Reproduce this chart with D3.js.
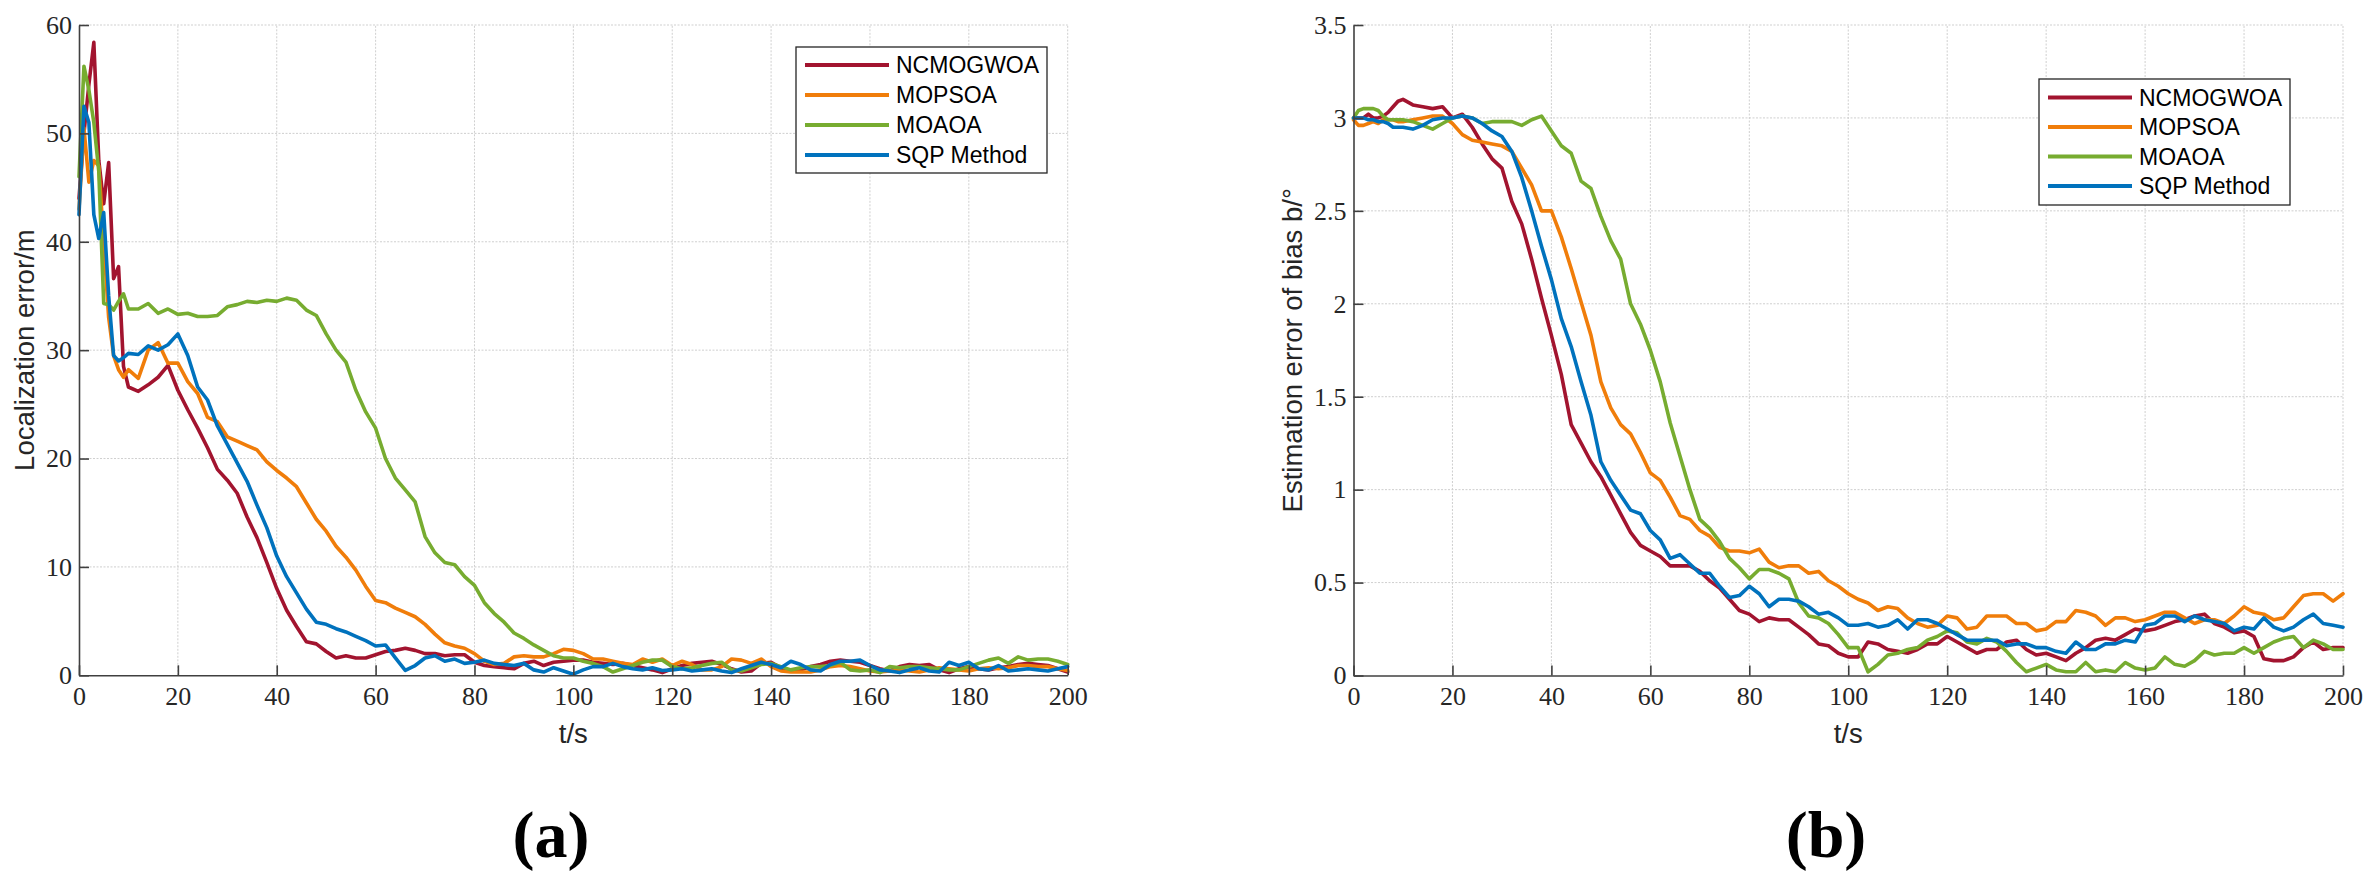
<!DOCTYPE html>
<html><head><meta charset="utf-8">
<script src="https://cdn.jsdelivr.net/npm/d3@7"></script>
<style>
html,body{margin:0;padding:0;background:#fff;}
svg{display:block;}
</style></head><body>
<svg id="chart" width="2375" height="887"></svg>
<script>
// ---------- data ----------
const timeSec = [0,1,2,3,4,5,6,7,8,9,10,
  12,14,16,18,20,22,24,26,28,30,
  32,34,36,38,40,42,44,46,48,50,
  52,54,56,58,60,62,64,66,68,70,
  72,74,76,78,80,82,84,86,88,90,
  92,94,96,98,100,102,104,106,108,110,
  112,114,116,118,120,122,124,126,128,130,
  132,134,136,138,140,142,144,146,148,150,
  152,154,156,158,160,162,164,166,168,170,
  172,174,176,178,180,182,184,186,188,190,
  192,194,196,198,200];

// (a) Localization error / m
const errNCMOGWOA = [44,50,54.5,58.4,47.5,43.5,47.3,36.6,37.7,28.5,26.6,
  26.2,26.8,27.5,28.6,26.3,24.5,22.8,21.0,19.0,18.0,
  16.8,14.6,12.7,10.4,8.0,6.0,4.5,3.1,2.9,2.2,
  1.6,1.8,1.6,1.6,1.9,2.2,2.3,2.5,2.3,2.0,
  2.0,1.8,1.9,1.9,1.2,0.9,0.8,0.7,0.6,1.1,
  1.3,0.9,1.2,1.3,1.4,1.4,1.2,1.1,1.0,1.1,
  0.9,0.7,0.5,0.25,0.6,0.9,1.1,1.2,1.3,1.0,
  0.6,0.3,0.4,1.1,1.2,0.7,0.4,0.5,0.8,1.0,
  1.3,1.4,1.3,1.2,0.9,0.6,0.4,0.8,1.0,0.9,
  1.0,0.5,0.25,0.6,0.8,0.6,0.5,0.7,0.8,1.0,
  1.1,1.0,0.9,0.6,0.3];
const errMOPSOA = [43,50.5,45.5,47.5,47,40,33,29.5,28.2,27.5,28.2,
  27.4,30.0,30.7,28.8,28.8,27.1,26.0,23.8,23.4,22.0,
  21.6,21.2,20.8,19.7,18.9,18.2,17.4,15.9,14.4,13.3,
  11.9,10.9,9.7,8.2,6.9,6.7,6.2,5.8,5.4,4.7,
  3.8,3.0,2.7,2.5,2.0,1.3,1.0,1.1,1.7,1.8,
  1.7,1.7,2.0,2.4,2.3,2.0,1.5,1.5,1.3,1.1,
  1.0,1.5,1.2,1.5,0.9,1.3,1.0,0.5,0.5,0.8,
  1.5,1.4,1.1,1.5,0.8,0.4,0.3,0.3,0.3,0.5,
  0.8,0.9,0.8,0.6,0.4,0.3,0.4,0.5,0.4,0.3,
  0.5,0.7,0.6,0.5,0.4,0.6,0.7,0.6,0.7,0.9,
  0.9,0.8,0.8,0.6,0.45];
const errMOAOA = [46,56.2,54,51,46.5,34.3,34.2,33.7,34.5,35.2,33.8,
  33.8,34.3,33.4,33.8,33.3,33.4,33.1,33.1,33.2,34.0,
  34.2,34.5,34.4,34.6,34.5,34.8,34.6,33.7,33.2,31.5,
  30.0,28.9,26.3,24.3,22.8,20.0,18.2,17.1,16.0,12.8,
  11.3,10.4,10.2,9.1,8.3,6.7,5.7,4.9,3.9,3.4,
  2.8,2.3,1.8,1.6,1.6,1.3,1.1,0.8,0.3,0.6,
  0.9,1.2,1.4,1.4,0.8,0.6,0.7,0.9,1.1,1.2,
  0.5,0.4,0.7,1.0,1.1,0.8,0.5,0.7,0.8,0.8,
  0.9,1.2,0.5,0.4,0.5,0.25,0.8,0.7,0.8,0.8,
  0.7,0.6,0.5,0.5,0.8,1.1,1.4,1.6,1.1,1.7,
  1.4,1.5,1.5,1.3,1.0];
const errSQP = [42.5,52.5,51,42.5,40.3,42.7,35,29.5,29,29.3,29.7,
  29.6,30.4,30.0,30.5,31.5,29.5,26.6,25.4,23.0,21.3,
  19.6,17.9,15.7,13.6,11.0,9.1,7.6,6.1,4.9,4.7,
  4.3,4.0,3.6,3.2,2.7,2.8,1.6,0.45,0.9,1.6,
  1.8,1.3,1.5,1.1,1.2,1.4,1.1,1.0,0.9,1.1,
  0.5,0.3,0.7,0.4,0.1,0.5,0.8,0.8,1.1,0.8,
  0.6,0.5,0.7,0.45,0.5,0.6,0.4,0.5,0.6,0.4,
  0.25,0.6,0.9,1.2,1.0,0.7,1.3,1.0,0.5,0.4,
  1.0,1.3,1.3,1.4,0.9,0.5,0.4,0.25,0.5,0.7,
  0.4,0.3,1.2,0.9,1.2,0.6,0.5,0.9,0.4,0.5,
  0.6,0.5,0.4,0.6,0.8];

// (b) Estimation error of bias b / degree
const biasNCMOGWOA = [3.0,3.0,3.0,3.02,3.0,3.0,3.01,3.03,3.06,3.09,3.1,
  3.07,3.06,3.05,3.06,3.0,3.02,2.95,2.86,2.78,2.73,
  2.55,2.43,2.24,2.03,1.83,1.62,1.35,1.25,1.15,1.07,
  0.97,0.87,0.77,0.70,0.67,0.64,0.59,0.59,0.59,0.56,
  0.51,0.47,0.41,0.35,0.33,0.29,0.31,0.30,0.30,0.26,
  0.22,0.17,0.16,0.12,0.10,0.10,0.18,0.17,0.14,0.13,
  0.12,0.14,0.17,0.17,0.21,0.18,0.15,0.12,0.14,0.14,
  0.18,0.19,0.14,0.11,0.12,0.10,0.08,0.12,0.15,0.19,
  0.20,0.19,0.22,0.25,0.24,0.25,0.27,0.29,0.30,0.32,
  0.33,0.28,0.26,0.23,0.24,0.21,0.09,0.08,0.08,0.10,
  0.15,0.18,0.14,0.15,0.15];
const biasMOPSOA = [2.99,2.96,2.96,2.97,2.98,2.97,2.99,2.99,2.99,2.98,2.98,
  2.99,3.0,3.01,3.01,2.97,2.91,2.88,2.87,2.86,2.85,
  2.82,2.73,2.64,2.50,2.50,2.36,2.19,2.01,1.83,1.58,
  1.44,1.35,1.30,1.20,1.09,1.05,0.96,0.86,0.84,0.78,
  0.75,0.69,0.67,0.67,0.66,0.68,0.61,0.58,0.59,0.59,
  0.55,0.56,0.51,0.48,0.44,0.41,0.39,0.35,0.37,0.36,
  0.31,0.28,0.26,0.27,0.32,0.31,0.25,0.26,0.32,0.32,
  0.32,0.28,0.28,0.24,0.25,0.29,0.29,0.35,0.34,0.32,
  0.27,0.31,0.31,0.29,0.30,0.32,0.34,0.34,0.31,0.28,
  0.30,0.30,0.28,0.32,0.37,0.34,0.33,0.30,0.31,0.37,
  0.43,0.44,0.44,0.40,0.44];
const biasMOAOA = [3.0,3.04,3.05,3.05,3.05,3.04,3.01,2.99,2.99,2.99,2.99,
  2.98,2.96,2.94,2.97,3.0,3.01,3.0,2.97,2.98,2.98,
  2.98,2.96,2.99,3.01,2.93,2.85,2.81,2.66,2.62,2.47,
  2.34,2.24,2.0,1.89,1.75,1.58,1.36,1.18,1.0,0.84,
  0.79,0.72,0.63,0.58,0.52,0.57,0.57,0.55,0.52,0.39,
  0.32,0.31,0.28,0.22,0.15,0.15,0.02,0.06,0.11,0.12,
  0.14,0.15,0.19,0.21,0.24,0.23,0.18,0.17,0.20,0.18,
  0.13,0.07,0.02,0.04,0.06,0.03,0.02,0.02,0.07,0.02,
  0.03,0.02,0.07,0.04,0.03,0.04,0.10,0.06,0.05,0.08,
  0.13,0.11,0.12,0.12,0.15,0.12,0.15,0.18,0.20,0.21,
  0.15,0.19,0.17,0.14,0.14];
const biasSQP = [3.0,3.0,3.0,2.99,2.99,2.98,2.98,2.97,2.95,2.95,2.95,
  2.94,2.96,2.99,3.0,3.0,3.01,3.0,2.97,2.93,2.90,
  2.82,2.68,2.50,2.31,2.13,1.92,1.77,1.58,1.40,1.15,
  1.05,0.97,0.89,0.87,0.78,0.73,0.63,0.65,0.60,0.55,
  0.55,0.48,0.42,0.43,0.48,0.44,0.37,0.41,0.41,0.40,
  0.37,0.33,0.34,0.31,0.27,0.27,0.28,0.26,0.27,0.30,
  0.25,0.30,0.30,0.28,0.25,0.22,0.19,0.19,0.19,0.19,
  0.16,0.17,0.17,0.15,0.15,0.13,0.12,0.18,0.14,0.14,
  0.17,0.17,0.19,0.18,0.27,0.28,0.32,0.32,0.29,0.32,
  0.30,0.29,0.28,0.24,0.26,0.25,0.31,0.26,0.24,0.26,
  0.30,0.33,0.28,0.27,0.26];

const seriesNames = ["NCMOGWOA","MOPSOA","MOAOA","SQP Method"];
const seriesColors = ["#A2142F","#F07D0A","#77AC30","#0072BD"];
const xTicks = [0,20,40,60,80,100,120,140,160,180,200];
const yTicksErr = [0,10,20,30,40,50,60];
const yTicksBias = [0,0.5,1,1.5,2,2.5,3,3.5];

// ---------- drawing ----------
const svg = d3.select("#chart");
svg.append("rect").attr("width",2375).attr("height",887).attr("fill","#fff");

const TICK_FONT = "'Liberation Serif','Times New Roman',serif";
const SANS = "'Liberation Sans',Arial,Helvetica,sans-serif";

function drawPanel(cfg){
  const x = d3.scaleLinear().domain([0,200]).range(cfg.xr);
  const y = d3.scaleLinear().domain(cfg.yd).range(cfg.yr);
  const g = svg.append("g");

  // grid
  const grid = g.append("g");
  grid.selectAll("line.vx").data(xTicks.slice(1)).join("line")
    .attr("x1",d=>x(d)).attr("x2",d=>x(d)).attr("y1",cfg.yr[0]).attr("y2",cfg.yr[1])
    .attr("stroke","#cfcfcf").attr("stroke-width",1).attr("stroke-dasharray","2,1.5");
  grid.selectAll("line.hy").data(cfg.yTicks.slice(1)).join("line")
    .attr("x1",cfg.xr[0]).attr("x2",cfg.xr[1]).attr("y1",d=>y(d)).attr("y2",d=>y(d))
    .attr("stroke","#cfcfcf").attr("stroke-width",1).attr("stroke-dasharray","2,1.5");

  // lines
  const line = d3.line().x((d,i)=>x(timeSec[i])).y(d=>y(d));
  cfg.series.forEach((s,k)=>{
    g.append("path").datum(s).attr("d",line).attr("fill","none")
      .attr("stroke",seriesColors[k]).attr("stroke-width",3.6)
      .attr("stroke-linejoin","round").attr("stroke-linecap","round");
  });

  // axes
  const ax = g.append("g").attr("transform",`translate(0,${cfg.yr[0]})`)
    .call(d3.axisBottom(x).tickValues(xTicks).tickSizeInner(-10).tickSizeOuter(0).tickPadding(11).tickFormat(d3.format("~g")));
  const ay = g.append("g").attr("transform",`translate(${cfg.xr[0]},0)`)
    .call(d3.axisLeft(y).tickValues(cfg.yTicks).tickSizeInner(-10).tickSizeOuter(0).tickPadding(7).tickFormat(d3.format("~g")));
  [ax,ay].forEach(a=>{
    a.select(".domain").attr("stroke","#404040").attr("stroke-width",1.6);
    a.selectAll(".tick line").attr("stroke","#404040").attr("stroke-width",1.6);
    a.selectAll(".tick text").attr("font-family",TICK_FONT).attr("font-size",26).attr("fill","#262626");
  });

  // axis labels
  g.append("text").attr("x",(cfg.xr[0]+cfg.xr[1])/2).attr("y",743)
    .attr("text-anchor","middle").attr("font-family",SANS).attr("font-size",27.5).attr("fill","#262626").text("t/s");
  g.append("text").attr("transform",`translate(${cfg.ylabX},${(cfg.yr[0]+cfg.yr[1])/2}) rotate(-90)`)
    .attr("text-anchor","middle").attr("font-family",SANS).attr("font-size",27.5).attr("fill","#262626").text(cfg.ylabel);

  // legend
  const lg = g.append("g");
  lg.append("rect").attr("x",cfg.leg.x).attr("y",cfg.leg.y).attr("width",cfg.leg.w).attr("height",cfg.leg.h)
    .attr("fill","#fff").attr("stroke","#262626").attr("stroke-width",1.3);
  seriesNames.forEach((n,k)=>{
    const yy = cfg.leg.rows[k];
    lg.append("line").attr("x1",cfg.leg.x+9).attr("x2",cfg.leg.x+93).attr("y1",yy).attr("y2",yy)
      .attr("stroke",seriesColors[k]).attr("stroke-width",3.8);
    lg.append("text").attr("x",cfg.leg.x+100).attr("y",yy).attr("dy","0.36em")
      .attr("font-family",SANS).attr("font-size",23).attr("fill","#000").text(n);
  });

  // panel letter
  svg.append("text").attr("x",cfg.letterX).attr("y",857).attr("text-anchor","middle")
    .attr("font-family",TICK_FONT).attr("font-weight","bold").attr("font-size",66).attr("fill","#000")
    .text(cfg.letter);
}

drawPanel({
  xr:[79,1067.7], yd:[0,60], yr:[675.3,25], yTicks:yTicksErr,
  series:[errNCMOGWOA,errMOPSOA,errMOAOA,errSQP],
  ylabel:"Localization error/m", ylabX:34,
  leg:{x:796,y:47,w:251,h:126,rows:[65,95,125,155]},
  letter:"(a)", letterX:551
});
drawPanel({
  xr:[1353.5,2343], yd:[0,3.5], yr:[675.5,25], yTicks:yTicksBias,
  series:[biasNCMOGWOA,biasMOPSOA,biasMOAOA,biasSQP],
  ylabel:"Estimation error of bias b/°", ylabX:1302,
  leg:{x:2039,y:79,w:251,h:126,rows:[97.5,127,156.5,186]},
  letter:"(b)", letterX:1826
});
</script>
</body></html>
